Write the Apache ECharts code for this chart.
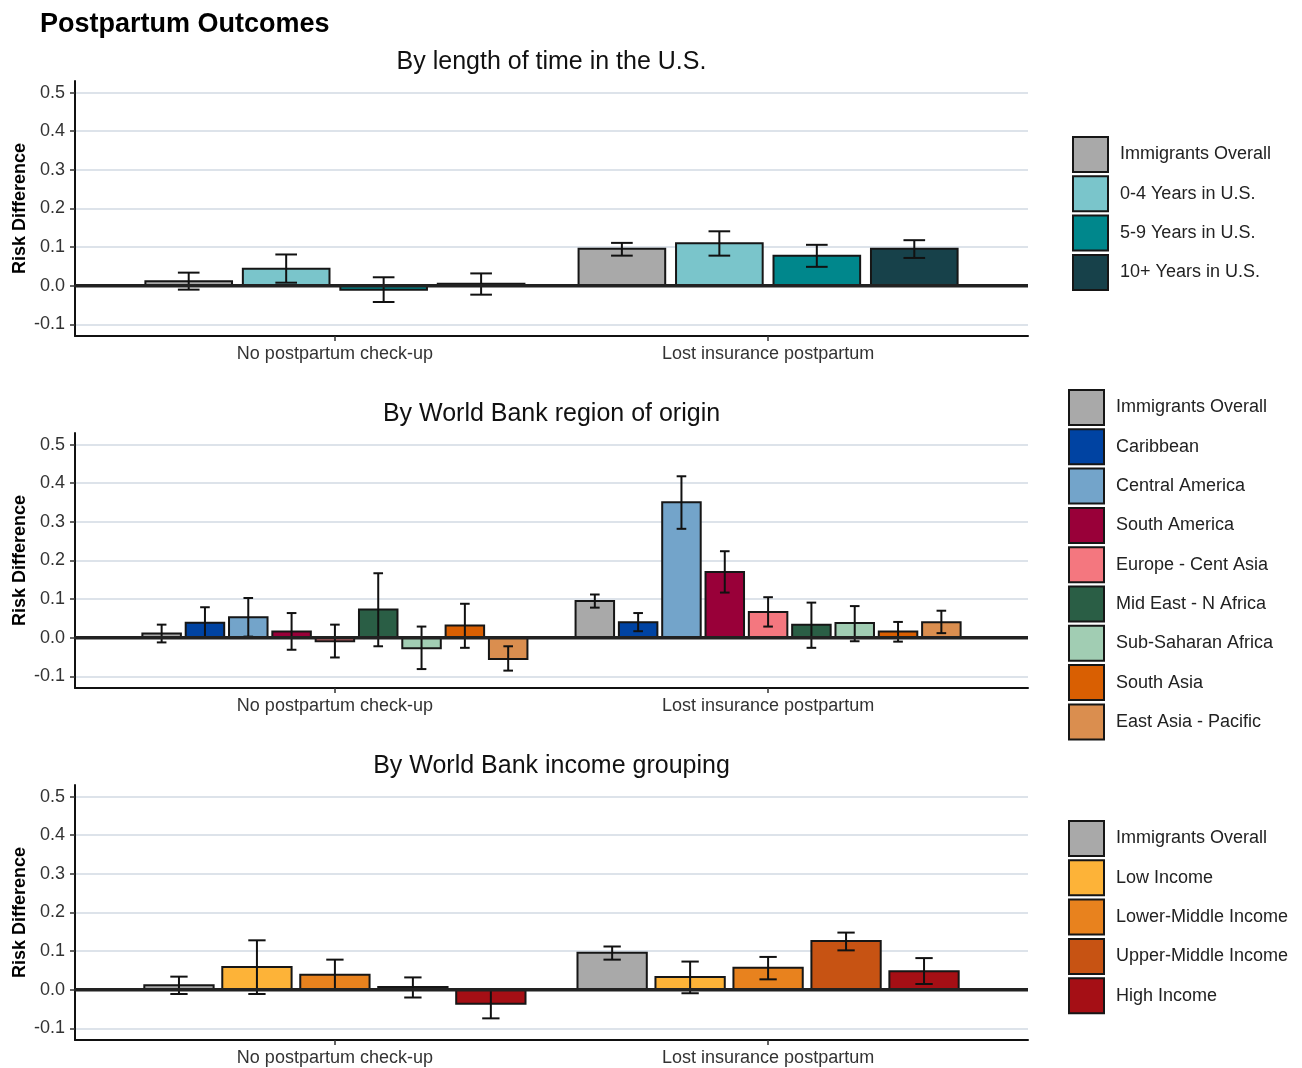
<!DOCTYPE html>
<html>
<head>
<meta charset="utf-8">
<script src="https://cdn.jsdelivr.net/npm/echarts@6/dist/echarts.min.js"></script>
<style>
html,body{margin:0;padding:0;background:#fff;}
#chart{width:1302px;height:1068px;}
</style>
</head>
<body>
<div id="chart"></div>
<script>
// ---------- data ----------
const categories = ['No postpartum check-up', 'Lost insurance postpartum'];
const yTicks = [-0.1, 0, 0.1, 0.2, 0.3, 0.4, 0.5];

const panelTitles = ['By length of time in the U.S.', 'By World Bank region of origin', 'By World Bank income grouping'];

// Panel 1
const groups1 = ['Immigrants Overall', '0-4 Years in U.S.', '5-9 Years in U.S.', '10+ Years in U.S.'];
const colors1 = ['#a9a9a9', '#7ac5cb', '#00878c', '#17414a'];
const est1 = [[0.012, 0.096], [0.044, 0.110], [-0.010, 0.078], [0.005, 0.096]];
const lo1  = [[-0.010, 0.078], [0.008, 0.078], [-0.042, 0.049], [-0.023, 0.072]];
const hi1  = [[0.034, 0.111], [0.081, 0.141], [0.022, 0.106], [0.032, 0.118]];

// Panel 2
const groups2 = ['Immigrants Overall', 'Caribbean', 'Central America', 'South America', 'Europe - Cent Asia',
  'Mid East - N Africa', 'Sub-Saharan Africa', 'South Asia', 'East Asia - Pacific'];
const colors2 = ['#a9a9a9', '#0043a2', '#73a4ca', '#990039', '#f4777f', '#2a5e45', '#a1cdb3', '#d95f02', '#da8e4f'];
const est2 = [[0.011, 0.095], [0.039, 0.040], [0.053, 0.351], [0.016, 0.170], [-0.009, 0.067],
  [0.073, 0.034], [-0.027, 0.038], [0.032, 0.016], [-0.055, 0.040]];
const lo2 = [[-0.012, 0.078], [0.000, 0.017], [0.003, 0.282], [-0.031, 0.117], [-0.051, 0.029],
  [-0.022, -0.026], [-0.081, -0.009], [-0.026, -0.010], [-0.085, 0.012]];
const hi2 = [[0.034, 0.112], [0.079, 0.064], [0.103, 0.418], [0.064, 0.224], [0.034, 0.105],
  [0.167, 0.091], [0.029, 0.082], [0.088, 0.041], [-0.022, 0.070]];

// Panel 3
const groups3 = ['Immigrants Overall', 'Low Income', 'Lower-Middle Income', 'Upper-Middle Income', 'High Income'];
const colors3 = ['#a9a9a9', '#fdb338', '#e8821e', '#c75313', '#a50f15'];
const est3 = [[0.012, 0.096], [0.059, 0.033], [0.039, 0.057], [0.007, 0.126], [-0.036, 0.048]];
const lo3  = [[-0.011, 0.078], [-0.011, -0.009], [0.002, 0.027], [-0.020, 0.102], [-0.074, 0.015]];
const hi3  = [[0.034, 0.112], [0.128, 0.073], [0.078, 0.085], [0.032, 0.148], [0.002, 0.082]];

// ---------- build ----------
const FONT = 'Liberation Sans, Arial, sans-serif';
const panels = [
  {groups: groups1, colors: colors1, est: est1, lo: lo1, hi: hi1, top: 81, legendLeft: 1072, legendTop: 136},
  {groups: groups2, colors: colors2, est: est2, lo: lo2, hi: hi2, top: 433, legendLeft: 1068, legendTop: 389},
  {groups: groups3, colors: colors3, est: est3, lo: lo3, hi: hi3, top: 785, legendLeft: 1068, legendTop: 820}
];
const GRID_H = 255;

function makeRender(idx, n, color) {
  return function (params, api) {
    const x = api.value(0), v = api.value(1), lo = api.value(2), hi = api.value(3);
    const slot = 0.9 / n;
    const bw = 0.8 / n;
    const cw = 0.2 / n;
    const cx = x + (idx - (n - 1) / 2) * slot;
    const a = api.coord([cx - bw / 2, 0]);
    const b = api.coord([cx + bw / 2, v]);
    const pLo = api.coord([cx, lo]);
    const pHi = api.coord([cx, hi]);
    const cl = api.coord([cx - cw / 2, lo]);
    const cr = api.coord([cx + cw / 2, lo]);
    const hl = api.coord([cx - cw / 2, hi]);
    const hr = api.coord([cx + cw / 2, hi]);
    const lineStyle = {stroke: '#111', lineWidth: 2};
    return {
      type: 'group',
      children: [
        {type: 'rect', shape: {x: Math.min(a[0], b[0]), y: Math.min(a[1], b[1]), width: Math.abs(b[0] - a[0]), height: Math.abs(b[1] - a[1])},
          style: {fill: color, stroke: '#161616', lineWidth: 2}},
        {type: 'line', shape: {x1: pLo[0], y1: pLo[1], x2: pHi[0], y2: pHi[1]}, style: lineStyle, z2: 10},
        {type: 'line', shape: {x1: cl[0], y1: cl[1], x2: cr[0], y2: cr[1]}, style: lineStyle, z2: 10},
        {type: 'line', shape: {x1: hl[0], y1: hl[1], x2: hr[0], y2: hr[1]}, style: lineStyle, z2: 10}
      ]
    };
  };
}

const grids = [], xAxes = [], yAxes = [], series = [], legends = [];
const titles = [{
  text: 'Postpartum Outcomes', left: 40, top: 11, padding: 0,
  textStyle: {fontFamily: FONT, fontSize: 27, fontWeight: 'bold', color: '#000'}
}];

panels.forEach((p, pi) => {
  grids.push({left: 75, width: 953, top: p.top, height: GRID_H, containLabel: false, outerBoundsMode: 'none'});
  titles.push({
    text: panelTitles[pi], left: 551.5, top: p.top - 31, textAlign: 'center', padding: 0,
    textStyle: {fontFamily: FONT, fontSize: 25, fontWeight: 'normal', color: '#111'}
  });
  xAxes.push({
    type: 'value', gridIndex: pi, min: 0.4, max: 2.6,
    axisLine: {show: true, onZero: false, lineStyle: {color: '#111', width: 2}},
    axisTick: {show: true, customValues: [1, 2], length: 5, lineStyle: {color: '#333', width: 1.5}},
    axisLabel: {customValues: [1, 2], formatter: v => categories[Math.round(v) - 1] || '',
      fontFamily: FONT, fontSize: 18, color: '#333', margin: 9},
    splitLine: {show: false}
  });
  yAxes.push({
    type: 'value', gridIndex: pi, min: -0.13, max: 0.53,
    name: 'Risk Difference', nameLocation: 'middle', nameRotate: 90, nameGap: 46, nameMoveOverlap: false,
    nameTextStyle: {fontFamily: FONT, fontSize: 18, fontWeight: 'bold', color: '#000'},
    axisLine: {show: true, lineStyle: {color: '#111', width: 2}},
    axisTick: {show: true, customValues: yTicks, length: 5, lineStyle: {color: '#333', width: 1.5}},
    axisLabel: {customValues: yTicks, formatter: v => v.toFixed(1), fontFamily: FONT, fontSize: 18, color: '#333', margin: 10},
    splitLine: {show: true, lineStyle: {color: '#dde3ea', width: 2}}
  });
  const n = p.groups.length;
  p.groups.forEach((g, gi) => {
    const data = categories.map((c, ci) => [ci + 1, p.est[gi][ci], p.lo[gi][ci], p.hi[gi][ci]]);
    series.push({
      type: 'custom', name: g, xAxisIndex: pi, yAxisIndex: pi,
      itemStyle: {color: p.colors[gi], borderColor: '#161616', borderWidth: 2},
      encode: {x: 0, y: [1, 2, 3]},
      renderItem: makeRender(gi, n, p.colors[gi]),
      data: data, z: 2, silent: true
    });
  });
  series.push({
    type: 'line', name: 'zero' + pi, xAxisIndex: pi, yAxisIndex: pi,
    data: [[0.4, 0], [2.6, 0]], symbol: 'none', silent: true, z: 5,
    lineStyle: {color: '#222', width: 3.5}
  });
  legends.push({
    orient: 'vertical', left: p.legendLeft, top: p.legendTop, padding: 0,
    itemWidth: 35, itemHeight: 35, itemGap: 2.3, icon: 'rect',
    selectedMode: false,
    itemStyle: {borderColor: '#161616', borderWidth: 2},
    textStyle: {fontFamily: FONT, fontSize: 18, color: '#222', padding: [0, 0, 0, 7]},
    data: p.groups.map((g, gi) => ({name: g, itemStyle: {color: p.colors[gi], borderColor: '#161616', borderWidth: 2}}))
  });
});

const chart = echarts.init(document.getElementById('chart'), null, {renderer: 'canvas'});
chart.setOption({
  animation: false,
  backgroundColor: '#fff',
  title: titles,
  grid: grids,
  xAxis: xAxes,
  yAxis: yAxes,
  legend: legends,
  series: series
});
</script>
</body>
</html>
